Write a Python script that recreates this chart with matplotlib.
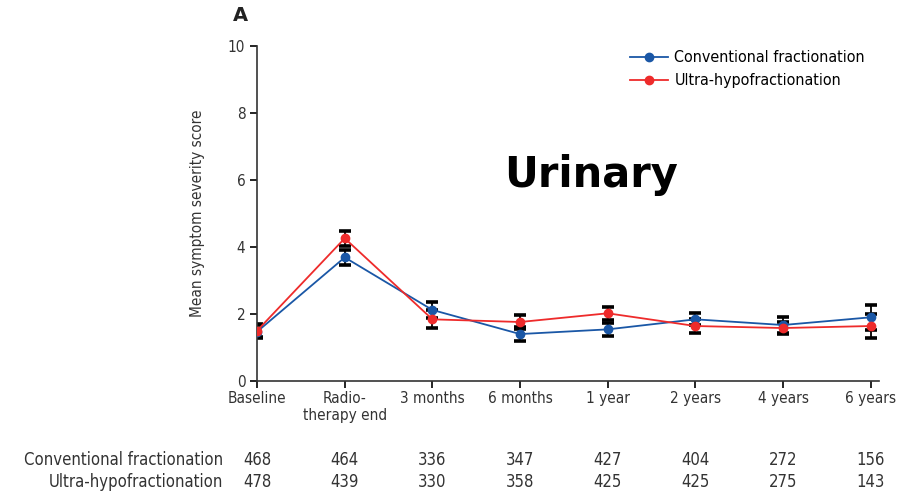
import matplotlib
matplotlib.use("Agg")
import matplotlib.pyplot as plt
import numpy as np

plt.rcParams['font.family'] = ['DejaVu Sans']
plt.rcParams['font.stretch'] = 'condensed'

timepoints = ["Baseline", "Radio-\ntherapy end", "3 months", "6 months",
              "1 year", "2 years", "4 years", "6 years"]
conv_mean = [1.47, 3.69, 2.12, 1.40, 1.54, 1.84, 1.67, 1.90]
conv_err = [0.20, 0.22, 0.25, 0.20, 0.20, 0.18, 0.23, 0.37]
ultra_mean = [1.50, 4.26, 1.84, 1.76, 2.02, 1.64, 1.58, 1.64]
ultra_err = [0.20, 0.23, 0.27, 0.21, 0.20, 0.20, 0.19, 0.37]
conv_n = [468, 464, 336, 347, 427, 404, 272, 156]
ultra_n = [478, 439, 330, 358, 425, 425, 275, 143]

blue = "#1a57a6"
red = "#ee2b2b"

fig = plt.figure(figsize=(9.02, 4.96), dpi=100)
ax = fig.add_axes([0.285, 0.232, 0.69, 0.675])
x = np.arange(len(timepoints))

for m, e, c, lab in [(conv_mean, conv_err, blue, "Conventional fractionation"),
                     (ultra_mean, ultra_err, red, "Ultra-hypofractionation")]:
    ax.errorbar(x, m, yerr=e, fmt='none', ecolor='black', elinewidth=1.3,
                capsize=4.5, capthick=2.6, zorder=2)
    ax.plot(x, m, color=c, lw=1.3, marker='o', ms=6, label=lab, zorder=3)

ax.set_xlim(0, 7.1)
ax.set_ylim(0, 10)
ax.set_yticks([0, 2, 4, 6, 8, 10])
ax.set_xticks(x)
ax.set_xticklabels(timepoints, fontsize=11, color='#333333')
ax.tick_params(axis='y', labelsize=11, labelcolor='#333333', length=5, width=1.2)
ax.tick_params(axis='x', length=5, width=1.2, pad=2)
for s in ['top', 'right']:
    ax.spines[s].set_visible(False)
for s in ['left', 'bottom']:
    ax.spines[s].set_linewidth(1.2)
    ax.spines[s].set_color('#333333')
ax.set_ylabel("Mean symptom severity score", fontsize=11, color='#333333')
ax.yaxis.set_label_coords(-0.084, 0.5)

ax.legend(loc='upper right', bbox_to_anchor=(1.0, 1.03), frameon=False,
          fontsize=11.5, handlelength=2.4, handletextpad=0.4, labelspacing=0.5)

fig.text(0.258, 0.968, "A", fontsize=14, fontweight='bold', family='DejaVu Sans',
         stretch='normal', ha='left', va='center', color='#222222')
ax.text(3.81, 6.15, "Urinary", fontsize=30, fontweight='bold', family='DejaVu Sans',
        stretch='normal', ha='center', va='center', color='black')

# numbers at risk table
trans = matplotlib.transforms.blended_transform_factory(ax.transData, fig.transFigure)
for row_y, label, vals in [(0.073, "Conventional fractionation", conv_n),
                           (0.028, "Ultra-hypofractionation", ultra_n)]:
    fig.text(0.247, row_y, label, ha='right', va='center', fontsize=12, color='#333333')
    for xi, v in zip(x, vals):
        ax.text(xi, row_y, str(v), transform=trans, ha='center', va='center',
                fontsize=12, color='#333333', clip_on=False)

fig.savefig("out.png", dpi=100)
